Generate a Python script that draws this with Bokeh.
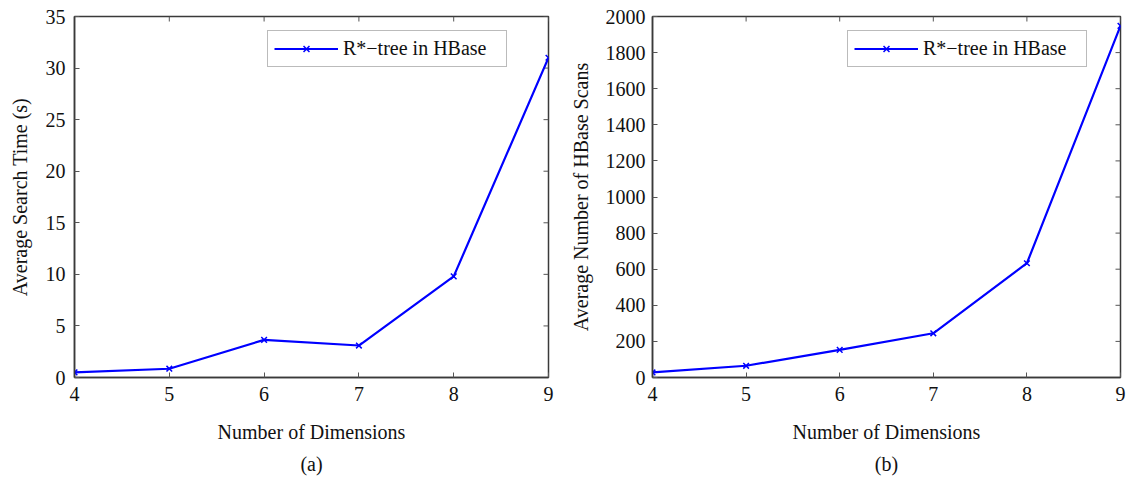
import math
from bokeh.plotting import figure
from bokeh.layouts import row
from bokeh.models import Range1d, FixedTicker, Legend, LegendItem, Title
from bokeh.embed import file_html
from bokeh.resources import INLINE

dims = [4, 5, 6, 7, 8, 9]
search_time = [0.5, 0.85, 3.65, 3.1, 9.8, 31.0]
hbase_scans = [28, 65, 153, 245, 633, 1948]
x_label = "Number of Dimensions"
y_label_a = "Average Search Time (s)"
y_label_b = "Average Number of HBase Scans"
series_name = "R*\u2212tree in HBase"
y_ticks_a = [0, 5, 10, 15, 20, 25, 30, 35]
y_ticks_b = list(range(0, 2001, 200))

FONT = "Liberation Serif"
FS = "20px"
AX_COL = "#3a3a3a"
TICK_COL = "#555555"
BLUE = "#0000ff"


def style_axis(ax):
    ax.axis_line_color = AX_COL
    ax.axis_line_width = 1.5
    ax.major_tick_line_color = TICK_COL
    ax.major_tick_in = 5
    ax.major_tick_out = 0
    ax.minor_tick_line_color = None
    ax.major_label_text_font = FONT
    ax.major_label_text_font_size = FS
    ax.major_label_text_color = "#111111"
    ax.axis_label_text_font = FONT
    ax.axis_label_text_font_size = FS
    ax.axis_label_text_font_style = "normal"
    ax.axis_label_text_color = "#111111"


def make_panel(ys, yticks, ymax, ylabel, tag, width, bl, br, ylab_standoff, tick_standoff, leg_x):
    p = figure(width=width, height=485, output_backend="svg", toolbar_location=None,
               x_range=Range1d(4, 9), y_range=Range1d(0, ymax),
               min_border_left=bl, min_border_right=br, min_border_top=16, min_border_bottom=108)
    p.grid.visible = False
    p.outline_line_color = AX_COL
    p.outline_line_width = 1.5
    p.background_fill_color = "white"
    p.border_fill_color = "white"

    p.xaxis.ticker = FixedTicker(ticks=dims)
    p.yaxis.ticker = FixedTicker(ticks=yticks)
    for ax in p.xaxis:
        style_axis(ax)
        ax.axis_label = x_label
        ax.major_label_standoff = 9
        ax.axis_label_standoff = 17
    for ax in p.yaxis:
        style_axis(ax)
        ax.axis_label = ylabel
        ax.major_label_standoff = tick_standoff
        ax.axis_label_standoff = ylab_standoff

    # inward ticks on the top and right edges of the box (MATLAB style)
    p.ray(x=dims, y=[ymax] * len(dims), length=5, length_units="screen",
          angle=-math.pi / 2, line_color=TICK_COL, line_width=1)
    p.ray(x=[9] * len(yticks), y=yticks, length=5, length_units="screen",
          angle=math.pi, line_color=TICK_COL, line_width=1)

    ln = p.line(dims, ys, line_color=BLUE, line_width=2.2)
    sc = p.scatter(dims, ys, marker="x", size=8, line_color=BLUE, line_width=1.5)

    leg = Legend(items=[LegendItem(label=series_name, renderers=[ln, sc])],
                 location=(leg_x, 310), orientation="vertical")
    leg.label_text_font = FONT
    leg.label_text_font_size = FS
    leg.label_text_color = "#111111"
    leg.border_line_color = "#777777"
    leg.border_line_width = 1.5
    leg.padding = 6
    leg.margin = 0
    leg.spacing = 0
    leg.glyph_width = 64
    leg.glyph_height = 21
    leg.label_height = 21
    leg.label_width = 157
    leg.label_standoff = 5
    leg.background_fill_alpha = 1
    p.add_layout(leg, "center")

    t = Title(text=tag, align="center", text_font=FONT, text_font_size=FS,
              text_font_style="normal", text_color="#111111", standoff=10)
    p.add_layout(t, "below")
    return p


pa = make_panel(search_time, y_ticks_a, 35, y_label_a, "(a)", 566, 74, 18, 12, 9, 193)
pb = make_panel(hbase_scans, y_ticks_b, 2000, y_label_b, "(b)", 564, 82, 10, 11, 7, 195)

layout = row(pa, pb)
open("out.html", "w").write(file_html(layout, INLINE))
